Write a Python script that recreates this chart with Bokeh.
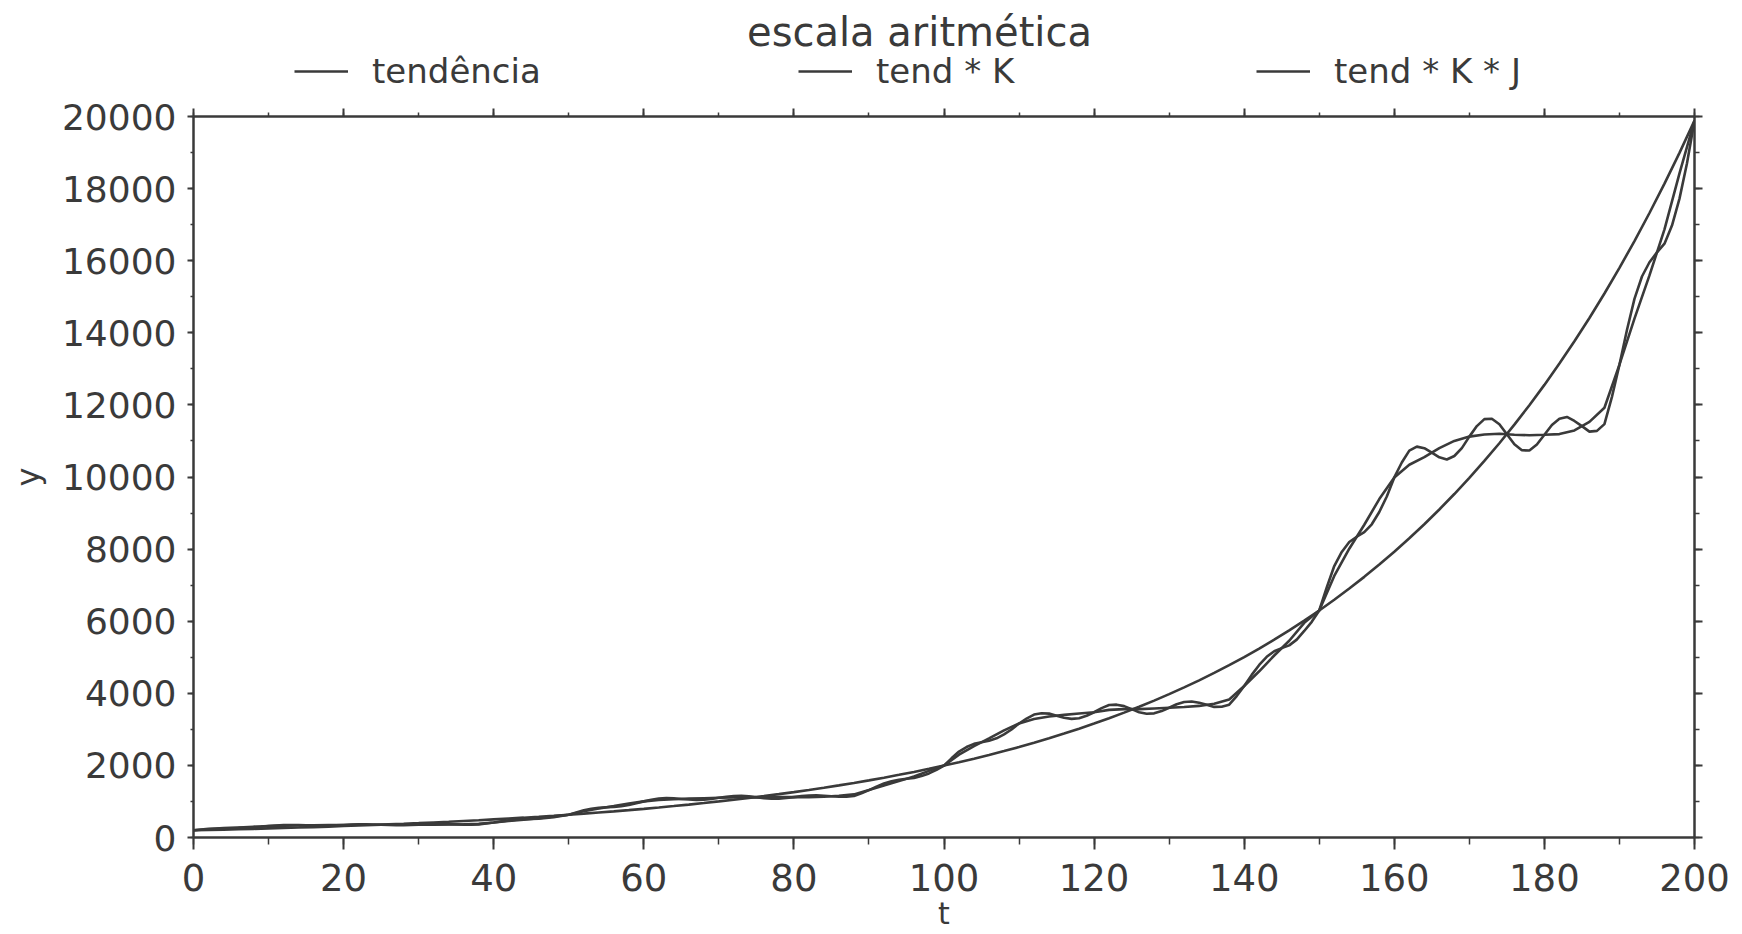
from bokeh.plotting import figure
from bokeh.layouts import column
from bokeh.models import (Range1d, LinearAxis, SingleIntervalTicker, Legend,
                          LegendItem, CustomLabelingPolicy, Label)
from bokeh.embed import file_html
from bokeh.resources import INLINE

title_text = "escala aritmética"
x_label = "t"
y_label = "y"
series_names = ["tendência", "tend * K", "tend * K * J"]

t_even = list(range(0, 201, 2))
t_all = list(range(0, 201))

tendencia = [200, 209, 219, 230, 240, 252, 264, 276, 289, 303,
             317, 332, 347, 364, 381, 399, 418, 437, 458, 479,
             502, 526, 550, 576, 603, 632, 661, 693, 725, 759,
             795, 832, 872, 913, 956, 1001, 1048, 1097, 1149, 1203,
             1259, 1319, 1381, 1446, 1514, 1585, 1660, 1738, 1819, 1905,
             1995, 2089, 2187, 2290, 2398, 2510, 2629, 2752, 2882, 3018,
             3160, 3308, 3464, 3627, 3798, 3976, 4164, 4359, 4565, 4779,
             5004, 5240, 5487, 5745, 6015, 6298, 6595, 6905, 7230, 7570,
             7927, 8300, 8690, 9099, 9528, 9976, 10445, 10937, 11452, 11991,
             12555, 13146, 13765, 14412, 15091, 15801, 16545, 17323, 18139, 18992,
             19886]

tend_k = [200, 230, 254, 276, 298, 317, 330, 337, 341, 345,
          348, 352, 354, 353, 354, 355, 355, 359, 366, 379,
          417, 457, 495, 536, 585, 632, 728, 803, 870, 941,
          1002, 1041, 1063, 1077, 1089, 1101, 1111, 1119, 1114, 1119,
          1121, 1121, 1132, 1156, 1196, 1315, 1444, 1564, 1692, 1848,
          1995, 2297, 2537, 2748, 2973, 3163, 3286, 3358, 3401, 3440,
          3475, 3540, 3560, 3560, 3580, 3600, 3620, 3650, 3710, 3830,
          4204, 4611, 5048, 5457, 5955, 6298, 7254, 8010, 8676, 9387,
          9988, 10340, 10550, 10800, 11000, 11120, 11180, 11200, 11170, 11160,
          11170, 11190, 11290, 11530, 11920, 13115, 14394, 15591, 16869, 18422,
          19886]

tend_kj = [200, 220, 239, 251, 260, 265, 270, 276, 287, 300,
           317, 331, 343, 346, 345, 339, 333, 330, 332, 338,
           348, 358, 365, 366, 362, 354, 345, 340, 341, 346,
           355, 363, 368, 371, 367, 363, 357, 358, 365, 389,
           417, 447, 474, 494, 507, 516, 523, 539, 563, 594,
           632, 696, 756, 795, 822, 837, 850, 871, 905, 949,
           1002, 1046, 1081, 1092, 1088, 1070, 1052, 1042, 1048, 1069,
           1101, 1132, 1153, 1157, 1145, 1117, 1088, 1074, 1076, 1094,
           1121, 1147, 1164, 1169, 1159, 1144, 1129, 1131, 1151, 1226,
           1315, 1412, 1499, 1561, 1601, 1628, 1652, 1703, 1778, 1876,
           1995, 2196, 2384, 2509, 2597, 2643, 2683, 2752, 2860, 2996,
           3163, 3300, 3411, 3448, 3437, 3380, 3321, 3291, 3309, 3376,
           3475, 3590, 3675, 3685, 3644, 3560, 3476, 3434, 3444, 3506,
           3600, 3695, 3758, 3773, 3736, 3680, 3623, 3627, 3684, 3923,
           4204, 4511, 4786, 5013, 5167, 5253, 5329, 5489, 5729, 5983,
           6298, 6935, 7530, 7922, 8198, 8343, 8472, 8688, 9030, 9460,
           9988, 10403, 10733, 10842, 10798, 10675, 10546, 10486, 10582, 10800,
           11120, 11412, 11605, 11615, 11463, 11185, 10908, 10741, 10736, 10903,
           11170, 11443, 11615, 11667, 11555, 11410, 11259, 11279, 11467, 12223,
           13115, 14078, 14941, 15562, 15957, 16230, 16473, 16975, 17722, 18704,
           19886]

INK = "#3a3a3a"
FONT = "DejaVu Sans"
LW = 2.6

W = 1730
TOP_H = 93
MAIN_H = 840
FRAME_LEFT = 193
FRAME_RIGHT = 1694
FRAME_TOP = 116  # page y of the plot frame's top edge

# ---- header strip: title and legend (its frame is aligned with the plot's) ----
head = figure(width=W, height=TOP_H, output_backend="svg", toolbar_location=None,
              x_range=Range1d(0, 1), y_range=Range1d(0, 1),
              x_axis_location=None, y_axis_location=None,
              min_border_left=FRAME_LEFT, min_border_right=W - FRAME_RIGHT,
              min_border_top=0, min_border_bottom=0)
head.outline_line_color = None
head.xgrid.visible = False
head.ygrid.visible = False
head.border_fill_color = "white"
head.background_fill_color = "white"

head.add_layout(Label(x=919 - FRAME_LEFT, y=TOP_H - 31, x_units="screen", y_units="screen",
                      text=title_text, text_align="center", text_baseline="middle",
                      text_font=FONT, text_font_size="40px", text_color=INK))

legend_x = [294, 798, 1256]
for name, lx in zip(series_names, legend_x):
    # hidden proxy renderer (outside the visible range) that supplies the legend sample
    proxy = head.line(x=[-2, -1], y=[-2, -2], line_color=INK, line_width=LW)
    lg = Legend(items=[LegendItem(label=name, renderers=[proxy])],
                location=(lx - FRAME_LEFT, 2), orientation="horizontal",
                border_line_alpha=0, background_fill_alpha=0,
                padding=0, margin=0, spacing=0,
                glyph_width=54, glyph_height=36, label_standoff=24,
                label_height=36,
                label_text_font_size="34px", label_text_font=FONT,
                label_text_color=INK)
    head.add_layout(lg)

# ---- main plot ----
p = figure(width=W, height=MAIN_H, output_backend="svg", toolbar_location=None,
           x_range=Range1d(0, 200), y_range=Range1d(0, 20000),
           x_axis_location=None, y_axis_location=None,
           min_border_left=FRAME_LEFT, min_border_right=W - FRAME_RIGHT,
           min_border_top=FRAME_TOP - TOP_H, min_border_bottom=94)
p.outline_line_color = None
p.xgrid.visible = False
p.ygrid.visible = False
p.background_fill_color = "white"
p.border_fill_color = "white"


def style_axis(ax, tick_out, minor_out, size=None, standoff=0):
    ax.axis_line_color = INK
    ax.axis_line_width = 2.5
    ax.major_tick_line_color = INK
    ax.major_tick_line_width = 2
    ax.minor_tick_line_color = INK
    ax.minor_tick_line_width = 1.5
    ax.major_tick_in = 0
    ax.major_tick_out = tick_out
    ax.minor_tick_in = 0
    ax.minor_tick_out = minor_out
    if size is None:
        ax.major_label_policy = CustomLabelingPolicy(code="return []")
        ax.major_label_text_font_size = "0px"
        ax.major_label_standoff = 0
    else:
        ax.major_label_text_font_size = size
        ax.major_label_text_font = FONT
        ax.major_label_text_color = INK
        ax.major_label_standoff = standoff


xb = LinearAxis(ticker=SingleIntervalTicker(interval=20, num_minor_ticks=2))
style_axis(xb, 12, 7, "37px", 14)
xb.axis_label = x_label
xb.axis_label_standoff = 2
xb.axis_label_text_font = FONT
xb.axis_label_text_font_size = "30px"
xb.axis_label_text_font_style = "normal"
xb.axis_label_text_color = INK
p.add_layout(xb, "below")

yl = LinearAxis(ticker=SingleIntervalTicker(interval=2000, num_minor_ticks=2))
style_axis(yl, 6, 3, "36px", 11)
yl.axis_label = y_label
yl.axis_label_standoff = 12
yl.axis_label_text_font = FONT
yl.axis_label_text_font_size = "32px"
yl.axis_label_text_font_style = "normal"
yl.axis_label_text_color = INK
p.add_layout(yl, "left")

xt = LinearAxis(ticker=SingleIntervalTicker(interval=20, num_minor_ticks=2))
style_axis(xt, 8, 4)
p.add_layout(xt, "above")

yr = LinearAxis(ticker=SingleIntervalTicker(interval=2000, num_minor_ticks=2))
style_axis(yr, 8, 5)
p.add_layout(yr, "right")

p.line(t_even, tendencia, line_color=INK, line_width=LW)
p.line(t_even, tend_k, line_color=INK, line_width=LW)
p.line(t_all, tend_kj, line_color=INK, line_width=LW)

layout = column(head, p, spacing=0)
open("out.html", "w").write(file_html(layout, INLINE))
